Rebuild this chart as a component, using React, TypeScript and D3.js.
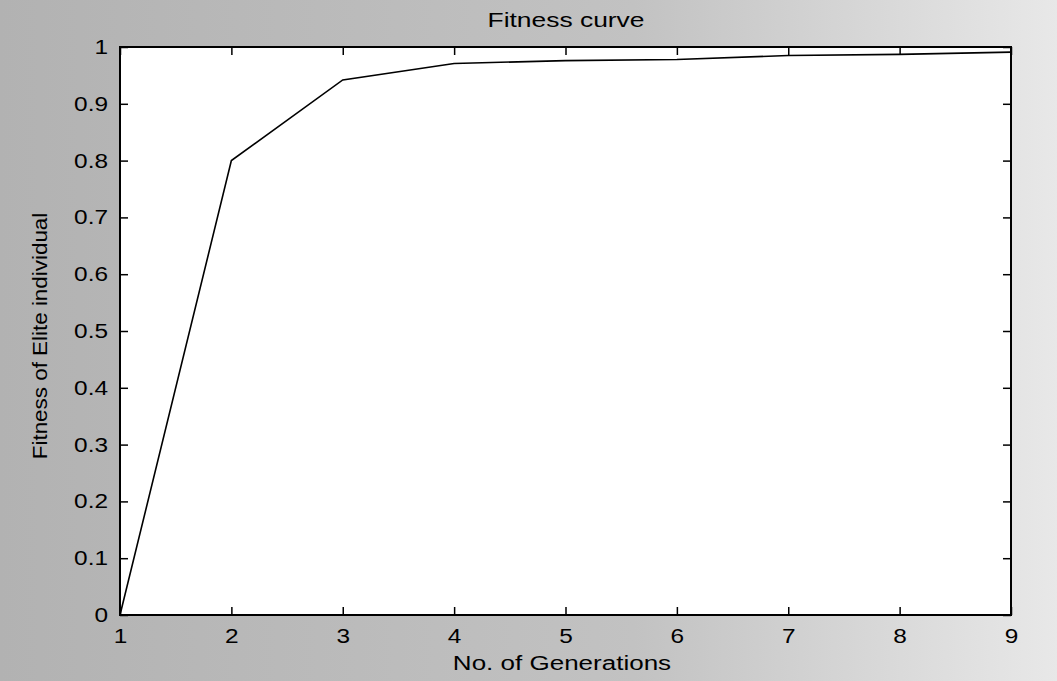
import React, { useEffect, useRef } from 'react';
import * as d3 from 'd3';

const generations = [1, 2, 3, 4, 5, 6, 7, 8, 9];
const eliteFitness = [0, 0.8, 0.942, 0.971, 0.976, 0.978, 0.985, 0.987, 0.991];
const xTicks = [1, 2, 3, 4, 5, 6, 7, 8, 9];
const yTicks = [0, 0.1, 0.2, 0.3, 0.4, 0.5, 0.6, 0.7, 0.8, 0.9, 1];

const width = 1057;
const height = 681;

const FitnessChart = () => {
  const svgRef = useRef<SVGSVGElement>(null);

  useEffect(() => {
    const svg = d3.select(svgRef.current);
    svg.selectAll('*').remove();

    const margin = { top: 47, right: 46, bottom: 66, left: 120 };
    const innerWidth = width - margin.left - margin.right;
    const innerHeight = height - margin.top - margin.bottom;

    // scanned-page look: grey background, darker on the left
    const defs = svg.append('defs');
    const grad = defs
      .append('linearGradient')
      .attr('id', 'bg')
      .attr('x1', '0%')
      .attr('x2', '100%')
      .attr('y1', '0%')
      .attr('y2', '0%');
    grad.append('stop').attr('offset', '0%').attr('stop-color', '#b2b2b2');
    grad.append('stop').attr('offset', '60%').attr('stop-color', '#c2c2c2');
    grad.append('stop').attr('offset', '100%').attr('stop-color', '#e8e8e8');

    svg.append('rect').attr('width', width).attr('height', height).attr('fill', 'url(#bg)');

    const g = svg.append('g').attr('transform', `translate(${margin.left},${margin.top})`);

    const x = d3.scaleLinear().domain([1, 9]).range([0, innerWidth]);
    const y = d3.scaleLinear().domain([0, 1]).range([innerHeight, 0]);

    g.append('rect').attr('width', innerWidth).attr('height', innerHeight).attr('fill', '#fff');

    const font = 'Liberation Sans, Arial, sans-serif';
    const fontSize = 20;
    // the scanned text is wider than the font; stretch each label horizontally
    const stretch = (sel: d3.Selection<any, any, any, any>, k = 1.22) =>
      sel.each(function (this: SVGTextElement) {
        const len = this.getComputedTextLength();
        d3.select(this).attr('textLength', len * k).attr('lengthAdjust', 'spacingAndGlyphs');
      });

    // bottom and left axes with inward ticks (MATLAB style)
    const xAxis = g
      .append('g')
      .attr('transform', `translate(0,${innerHeight})`)
      .call(d3.axisBottom(x).tickValues(xTicks).tickSize(-8).tickPadding(14).tickFormat(d3.format('d')));
    const yAxis = g
      .append('g')
      .call(d3.axisLeft(y).tickValues(yTicks).tickSize(-8).tickPadding(12).tickFormat(d => String(+d)));
    const xTop = g.append('g').call(d3.axisTop(x).tickValues(xTicks).tickSize(-8).tickFormat(() => ''));
    const yRight = g
      .append('g')
      .attr('transform', `translate(${innerWidth},0)`)
      .call(d3.axisRight(y).tickValues(yTicks).tickSize(-8).tickFormat(() => ''));

    [xAxis, yAxis, xTop, yRight].forEach(a => {
      a.select('.domain').remove();
      a.selectAll('.tick line').attr('stroke', '#000').attr('stroke-width', 1.5);
    });
    [xAxis, yAxis].forEach(a => {
      const t = a
        .selectAll('.tick text')
        .attr('font-family', font)
        .attr('font-size', fontSize)
        .attr('fill', '#000');
      stretch(t);
    });

    g.append('rect')
      .attr('width', innerWidth)
      .attr('height', innerHeight)
      .attr('fill', 'none')
      .attr('stroke', '#000')
      .attr('stroke-width', 2);

    const line = d3
      .line<number>()
      .x((d, i) => x(generations[i]))
      .y(d => y(d));

    g.append('path')
      .datum(eliteFitness)
      .attr('fill', 'none')
      .attr('stroke', '#000')
      .attr('stroke-width', 1.6)
      .attr('d', line);

    const title = svg
      .append('text')
      .attr('x', 566)
      .attr('y', 27)
      .attr('text-anchor', 'middle')
      .attr('font-family', font)
      .attr('font-size', fontSize)
      .text('Fitness curve');
    stretch(title, 1.32);

    const xLabel = svg
      .append('text')
      .attr('x', 562)
      .attr('y', 670)
      .attr('text-anchor', 'middle')
      .attr('font-family', font)
      .attr('font-size', fontSize)
      .text('No. of Generations');
    stretch(xLabel, 1.3);

    const yLabel = svg
      .append('text')
      .attr('transform', `translate(47,${margin.top + innerHeight / 2 + 5}) rotate(-90)`)
      .attr('text-anchor', 'middle')
      .attr('font-family', font)
      .attr('font-size', fontSize)
      .text('Fitness of Elite individual');
    stretch(yLabel, 1.12);
  }, []);

  return (
    <svg
      ref={svgRef}
      width={width}
      height={height}
      style={{ position: 'absolute', left: 0, top: 0, display: 'block' }}
    ></svg>
  );
};

export default function App() {
  return <FitnessChart />;
}
